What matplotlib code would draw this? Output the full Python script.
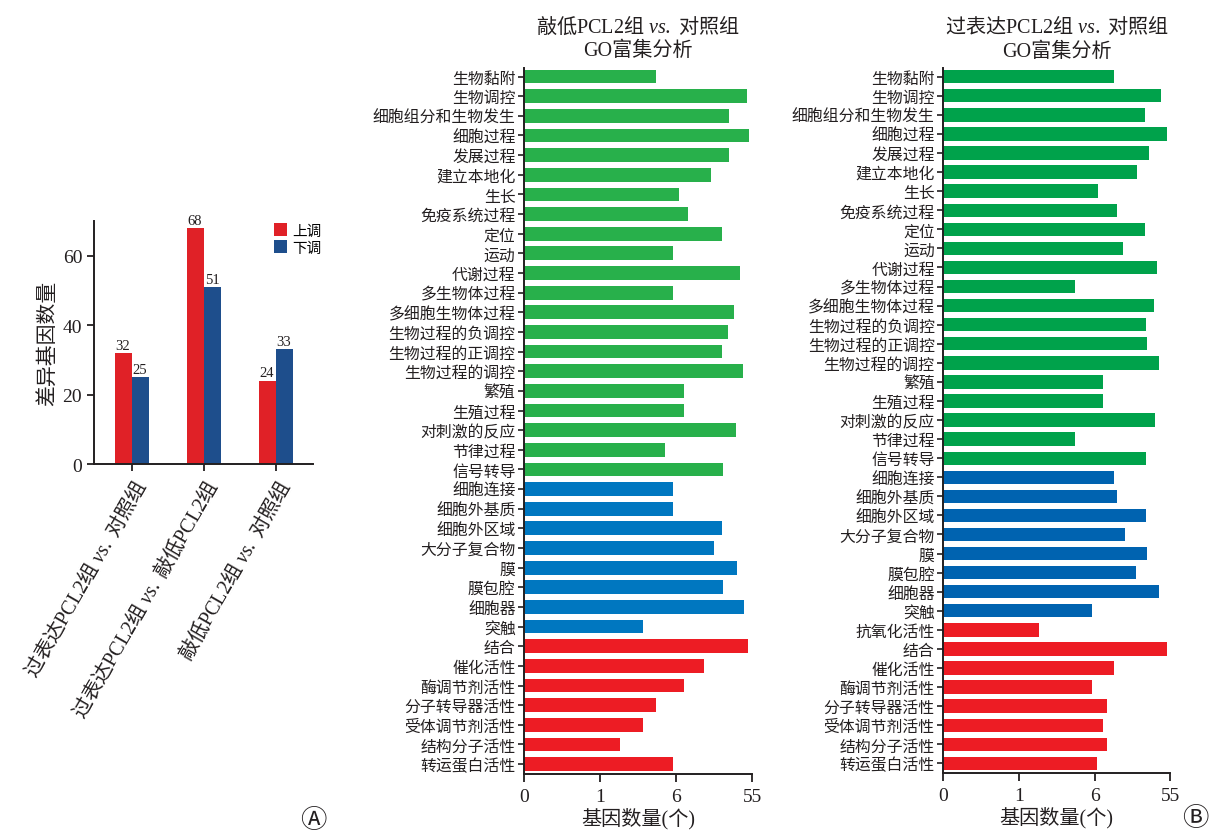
import matplotlib
matplotlib.use("Agg")
import matplotlib.pyplot as plt
import numpy as np

plt.rcParams['font.family'] = ['Liberation Serif', 'Noto Sans CJK SC', 'DejaVu Sans']
# mathtext is only used for the mixed labels with an italic "vs."
plt.rcParams['mathtext.fontset'] = 'custom'
plt.rcParams['mathtext.rm'] = 'Noto Sans CJK SC'
plt.rcParams['mathtext.sf'] = 'Liberation Serif'
plt.rcParams['mathtext.it'] = 'Liberation Serif:italic'

TXT = '#231f20'


def vs_label(a, b):
    # "<a> vs. <b>" with the Latin parts in serif and vs. in italics
    def part(s):
        out = ''
        buf = ''
        latin = None
        for ch in s:
            is_lat = ch.isascii()
            if latin is None or is_lat == latin:
                buf += ch
            else:
                out += (r'\mathsf{' if latin else r'\mathrm{') + buf + '}'
                buf = ch
            latin = is_lat
        out += (r'\mathsf{' if latin else r'\mathrm{') + buf + '}'
        return out
    return '$' + part(a) + r'\ \mathit{vs.}\ ' + part(b) + '$'


# ---- panel A: number of differentially expressed genes ----
groups = [('过表达PCL2组', '对照组'),
          ('过表达PCL2组', '敲低PCL2组'),
          ('敲低PCL2组', '对照组')]
up_counts = [32, 68, 24]
down_counts = [25, 51, 33]

# ---- panel B: GO enrichment ----
go_terms_kd = ['生物黏附', '生物调控', '细胞组分和生物发生', '细胞过程', '发展过程',
               '建立本地化', '生长', '免疫系统过程', '定位', '运动', '代谢过程',
               '多生物体过程', '多细胞生物体过程', '生物过程的负调控', '生物过程的正调控',
               '生物过程的调控', '繁殖', '生殖过程', '对刺激的反应', '节律过程', '信号转导',
               '细胞连接', '细胞外基质', '细胞外区域', '大分子复合物', '膜', '膜包腔',
               '细胞器', '突触',
               '结合', '催化活性', '酶调节剂活性', '分子转导器活性', '受体调节剂活性',
               '结构分子活性', '转运蛋白活性']
go_counts_kd = [4.7, 51.5, 40.3, 53.2, 40.3, 28.7, 7.9, 13.9, 35.4, 5.8, 47.2,
                5.8, 43.1, 39.7, 35.4, 49.4, 11.1, 11.1, 44.7, 5.3, 36.3,
                5.8, 5.8, 35.4, 30.8, 45.1, 36.3, 50.1, 3.8,
                52.2, 24.2, 11.1, 4.7, 3.8, 2.3, 5.8]
go_class_kd = ['bp'] * 21 + ['cc'] * 8 + ['mf'] * 7

go_terms_oe = ['生物黏附', '生物调控', '细胞组分和生物发生', '细胞过程', '发展过程',
               '建立本地化', '生长', '免疫系统过程', '定位', '运动', '代谢过程',
               '多生物体过程', '多细胞生物体过程', '生物过程的负调控', '生物过程的正调控',
               '生物过程的调控', '繁殖', '生殖过程', '对刺激的反应', '节律过程', '信号转导',
               '细胞连接', '细胞外基质', '细胞外区域', '大分子复合物', '膜', '膜包腔',
               '细胞器', '突触',
               '抗氧化活性', '结合', '催化活性', '酶调节剂活性', '分子转导器活性',
               '受体调节剂活性', '结构分子活性', '转运蛋白活性']
go_counts_oe = [18.9, 48.9, 38.6, 52.8, 40.9, 33.6, 8.1, 20.8, 38.6, 24.5, 46.3,
                4.7, 44.6, 39.4, 40.1, 47.4, 11.4, 11.4, 45.0, 4.7, 39.4,
                18.9, 20.8, 39.4, 26.0, 40.1, 32.5, 47.8, 5.8,
                2.3, 53.0, 18.9, 5.8, 14.1, 11.4, 14.1, 7.9]
go_class_oe = ['bp'] * 21 + ['cc'] * 8 + ['mf'] * 8

x_ticks = [0, 1, 6, 55]

# segmented axis: 0-1, 1-6 and 6-55 each take the same length
_vals = [-1000, 0, 1, 6, 55, 10000]
_pos = [-1000, 0, 1, 2, 3, 3 + (10000 - 55) / 49]


def fwd(x):
    return np.interp(x, _vals, _pos)


def inv(p):
    return np.interp(p, _pos, _vals)


fig = plt.figure(figsize=(12.12, 8.37), dpi=100)

# ---------------- A ----------------
axa = fig.add_axes([0.0776, 0.4444, 0.1807, 0.2904])
xg = np.arange(len(groups))
w = 0.236
b1 = axa.bar(xg - w / 2, up_counts, w, color='#e02127', label='上调')
b2 = axa.bar(xg + w / 2, down_counts, w, color='#1e4e8c', label='下调')
for bars in (b1, b2):
    for r in bars:
        axa.text(r.get_x() + r.get_width() / 2, r.get_height() + 0.4,
                 f'{int(r.get_height())}', ha='center', va='bottom',
                 fontsize=10.5, color=TXT)
axa.set_xlim(-0.52, 2.52)
axa.set_ylim(0, 70)
axa.set_yticks([0, 20, 40, 60])
axa.set_xticks(xg)
axa.set_xticklabels([vs_label(a, b) for a, b in groups], rotation=60,
                    ha='right', va='top', rotation_mode='anchor',
                    fontsize=14.5, color=TXT)
axa.tick_params(axis='y', labelsize=14, colors=TXT, length=5, width=1.3)
axa.tick_params(axis='x', length=5, width=1.3, colors=TXT, pad=3)
axa.set_ylabel('差异基因数量', fontsize=15, color=TXT, labelpad=3)
for s in ('top', 'right'):
    axa.spines[s].set_visible(False)
for s in ('left', 'bottom'):
    axa.spines[s].set_linewidth(1.4)
    axa.spines[s].set_color(TXT)
axa.legend(loc='upper left', bbox_to_anchor=(0.79, 1.02), frameon=False,
           handlelength=0.9, handleheight=0.9, handletextpad=0.3,
           borderpad=0, labelspacing=0.2, fontsize=10.5)

# ---------------- GO panels ----------------
colors_kd = {'bp': '#28b04b', 'cc': '#0077c0', 'mf': '#ed1c24'}
colors_oe = {'bp': '#00a24b', 'cc': '#0063b0', 'mf': '#ed1c24'}


def go_panel(rect, terms, counts, classes, palette, title):
    ax = fig.add_axes(rect)
    ax.set_xscale('function', functions=(fwd, inv))
    y = np.arange(len(terms))
    ax.barh(y, counts, height=0.7, color=[palette[c] for c in classes])
    ax.set_xlim(0, 55)
    ax.set_ylim(len(terms) - 0.48, -0.45)
    ax.set_yticks(y)
    ax.set_yticklabels(terms, fontsize=11.4, color=TXT)
    ax.set_xticks(x_ticks)
    ax.set_xticklabels([str(t) for t in x_ticks])
    ax.xaxis.set_minor_locator(matplotlib.ticker.NullLocator())
    ax.tick_params(axis='y', length=4, width=1.2, pad=2, colors=TXT)
    ax.tick_params(axis='x', length=6, width=1.3, labelsize=14, colors=TXT)
    ax.set_xlabel('基因数量(个)', fontsize=14.5, color=TXT, labelpad=2)
    for s in ('top', 'right'):
        ax.spines[s].set_visible(False)
    for s in ('left', 'bottom'):
        ax.spines[s].set_linewidth(1.4)
        ax.spines[s].set_color(TXT)
    ax.set_title(title, fontsize=14.5, color=TXT, linespacing=1.3, pad=9)
    return ax


go_panel([0.4323, 0.0737, 0.1882, 0.8442], go_terms_kd, go_counts_kd,
         go_class_kd, colors_kd, vs_label('敲低PCL2组', '对照组') + '\nGO富集分析')
go_panel([0.7781, 0.0749, 0.1875, 0.8425], go_terms_oe, go_counts_oe,
         go_class_oe, colors_oe, vs_label('过表达PCL2组', '对照组') + '\nGO富集分析')

fig.text(313 / 1212, 1 - 821 / 837, 'Ⓐ', fontsize=19, ha='center', va='center',
         color=TXT, family=['Noto Sans CJK SC', 'DejaVu Sans'])
fig.text(1195 / 1212, 1 - 819 / 837, 'Ⓑ', fontsize=19, ha='center', va='center',
         color=TXT, family=['Noto Sans CJK SC', 'DejaVu Sans'])

fig.savefig('out.png', dpi=100, facecolor='white')
